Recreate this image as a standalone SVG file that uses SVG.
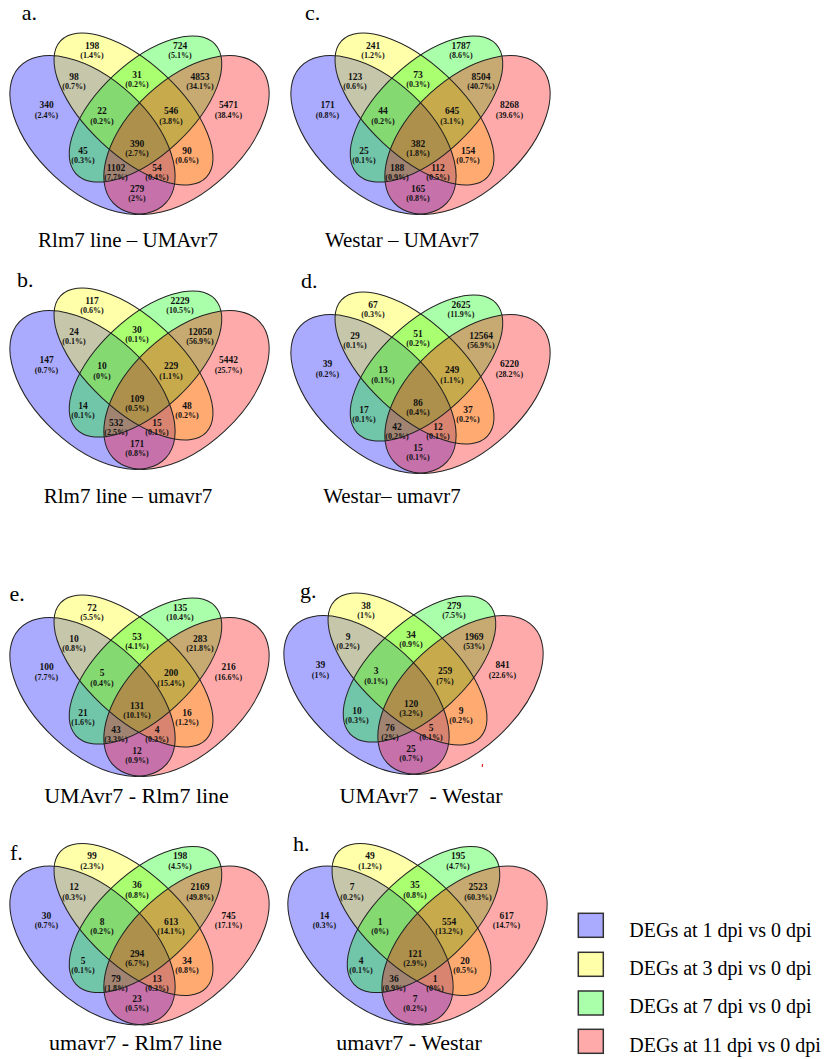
<svg xmlns="http://www.w3.org/2000/svg" width="825" height="1059" viewBox="0 0 825 1059">
<style>
.n{font-family:"Liberation Serif","Times New Roman",serif;font-weight:bold;font-size:9.5px;fill:#111;text-anchor:middle}
.p{font-family:"Liberation Serif","Times New Roman",serif;font-weight:bold;font-size:8px;fill:#111;text-anchor:middle}
.cap{font-family:"Liberation Serif","Times New Roman",serif;font-size:21px;fill:#000;text-anchor:middle}
.cap2{font-family:"Liberation Serif","Times New Roman",serif;font-size:22px;fill:#000;text-anchor:middle}
.tag{font-family:"Liberation Serif","Times New Roman",serif;font-size:22px;fill:#000}
.leg{font-family:"Liberation Serif","Times New Roman",serif;font-size:20px;fill:#000}
.ef{stroke:none;fill-opacity:0.333}
.eo{fill:none;stroke:#222;stroke-width:1}
.box{stroke:#333;stroke-width:1.5}
</style>
<defs>
<g id="venn">
<ellipse class="ef" fill="#0000ff" rx="100" ry="56" transform="translate(92.5 135) rotate(42.8)"/>
<ellipse class="ef" fill="#ffff00" rx="99.8" ry="46.2" transform="translate(133.5 109) rotate(43)"/>
<ellipse class="ef" fill="#00ff00" rx="95" ry="46.2" transform="translate(145.5 109) rotate(-43)"/>
<ellipse class="ef" fill="#ff0000" rx="100" ry="56" transform="translate(186.5 135) rotate(-42.8)"/>
<ellipse class="eo" rx="100" ry="56" transform="translate(92.5 135) rotate(42.8)"/>
<ellipse class="eo" rx="99.8" ry="46.2" transform="translate(133.5 109) rotate(43)"/>
<ellipse class="eo" rx="95" ry="46.2" transform="translate(145.5 109) rotate(-43)"/>
<ellipse class="eo" rx="100" ry="56" transform="translate(186.5 135) rotate(-42.8)"/>
</g>
</defs>

<g id="panel-a">
<use href="#venn"/>
<text class="n" x="92" y="48.8">198</text><text class="p" x="92" y="58.1">(1.4%)</text>
<text class="n" x="180" y="48.8">724</text><text class="p" x="180" y="58.1">(5.1%)</text>
<text class="n" x="46.5" y="108.3">340</text><text class="p" x="46.5" y="117.6">(2.4%)</text>
<text class="n" x="228.5" y="108.3">5471</text><text class="p" x="228.5" y="117.6">(38.4%)</text>
<text class="n" x="74" y="79.8">98</text><text class="p" x="74" y="89.1">(0.7%)</text>
<text class="n" x="137" y="77.8">31</text><text class="p" x="137" y="87.1">(0.2%)</text>
<text class="n" x="200" y="79.8">4853</text><text class="p" x="200" y="89.1">(34.1%)</text>
<text class="n" x="102" y="114.3">22</text><text class="p" x="102" y="123.6">(0.2%)</text>
<text class="n" x="171" y="114.3">546</text><text class="p" x="171" y="123.6">(3.8%)</text>
<text class="n" x="137" y="146.6">390</text><text class="p" x="137" y="155.9">(2.7%)</text>
<text class="n" x="83" y="153.5">45</text><text class="p" x="83" y="162.8">(0.3%)</text>
<text class="n" x="187" y="153.6">90</text><text class="p" x="187" y="162.9">(0.6%)</text>
<text class="n" x="116" y="171.1">1102</text><text class="p" x="116" y="180.4">(7.7%)</text>
<text class="n" x="157" y="171.1">54</text><text class="p" x="157" y="180.4">(0.4%)</text>
<text class="n" x="137" y="191.6">279</text><text class="p" x="137" y="200.9">(2%)</text>
<text class="tag" x="21.7" y="20">a.</text>
<text class="cap" x="128" y="247">Rlm7 line – UMAvr7</text>
</g>

<g id="panel-c">
<g transform="translate(281 0)">
<use href="#venn"/>
<text class="n" x="92" y="48.8">241</text><text class="p" x="92" y="58.1">(1.2%)</text>
<text class="n" x="180" y="48.8">1787</text><text class="p" x="180" y="58.1">(8.6%)</text>
<text class="n" x="46.5" y="108.3">171</text><text class="p" x="46.5" y="117.6">(0.8%)</text>
<text class="n" x="228.5" y="108.3">8268</text><text class="p" x="228.5" y="117.6">(39.6%)</text>
<text class="n" x="74" y="79.8">123</text><text class="p" x="74" y="89.1">(0.6%)</text>
<text class="n" x="137" y="77.8">73</text><text class="p" x="137" y="87.1">(0.3%)</text>
<text class="n" x="200" y="79.8">8504</text><text class="p" x="200" y="89.1">(40.7%)</text>
<text class="n" x="102" y="114.3">44</text><text class="p" x="102" y="123.6">(0.2%)</text>
<text class="n" x="171" y="114.3">645</text><text class="p" x="171" y="123.6">(3.1%)</text>
<text class="n" x="137" y="146.6">382</text><text class="p" x="137" y="155.9">(1.8%)</text>
<text class="n" x="83" y="153.5">25</text><text class="p" x="83" y="162.8">(0.1%)</text>
<text class="n" x="187" y="153.6">154</text><text class="p" x="187" y="162.9">(0.7%)</text>
<text class="n" x="116" y="171.1">188</text><text class="p" x="116" y="180.4">(0.9%)</text>
<text class="n" x="157" y="171.1">112</text><text class="p" x="157" y="180.4">(0.5%)</text>
<text class="n" x="137" y="191.6">165</text><text class="p" x="137" y="200.9">(0.8%)</text>
</g>
<text class="tag" x="305" y="20">c.</text>
<text class="cap" x="402" y="247">Westar – UMAvr7</text>
</g>

<g id="panel-b">
<g transform="translate(0 255)">
<use href="#venn"/>
<text class="n" x="92" y="48.8">117</text><text class="p" x="92" y="58.1">(0.6%)</text>
<text class="n" x="180" y="48.8">2229</text><text class="p" x="180" y="58.1">(10.5%)</text>
<text class="n" x="46.5" y="108.3">147</text><text class="p" x="46.5" y="117.6">(0.7%)</text>
<text class="n" x="228.5" y="108.3">5442</text><text class="p" x="228.5" y="117.6">(25.7%)</text>
<text class="n" x="74" y="79.8">24</text><text class="p" x="74" y="89.1">(0.1%)</text>
<text class="n" x="137" y="77.8">30</text><text class="p" x="137" y="87.1">(0.1%)</text>
<text class="n" x="200" y="79.8">12050</text><text class="p" x="200" y="89.1">(56.9%)</text>
<text class="n" x="102" y="114.3">10</text><text class="p" x="102" y="123.6">(0%)</text>
<text class="n" x="171" y="114.3">229</text><text class="p" x="171" y="123.6">(1.1%)</text>
<text class="n" x="137" y="146.6">109</text><text class="p" x="137" y="155.9">(0.5%)</text>
<text class="n" x="83" y="153.5">14</text><text class="p" x="83" y="162.8">(0.1%)</text>
<text class="n" x="187" y="153.6">48</text><text class="p" x="187" y="162.9">(0.2%)</text>
<text class="n" x="116" y="171.1">532</text><text class="p" x="116" y="180.4">(2.5%)</text>
<text class="n" x="157" y="171.1">15</text><text class="p" x="157" y="180.4">(0.1%)</text>
<text class="n" x="137" y="191.6">171</text><text class="p" x="137" y="200.9">(0.8%)</text>
</g>
<text class="tag" x="17" y="287">b.</text>
<text class="cap" x="128" y="503">Rlm7 line – umavr7</text>
</g>

<g id="panel-d">
<g transform="translate(281 259)">
<use href="#venn"/>
<text class="n" x="92" y="48.8">67</text><text class="p" x="92" y="58.1">(0.3%)</text>
<text class="n" x="180" y="48.8">2625</text><text class="p" x="180" y="58.1">(11.9%)</text>
<text class="n" x="46.5" y="108.3">39</text><text class="p" x="46.5" y="117.6">(0.2%)</text>
<text class="n" x="228.5" y="108.3">6220</text><text class="p" x="228.5" y="117.6">(28.2%)</text>
<text class="n" x="74" y="79.8">29</text><text class="p" x="74" y="89.1">(0.1%)</text>
<text class="n" x="137" y="77.8">51</text><text class="p" x="137" y="87.1">(0.2%)</text>
<text class="n" x="200" y="79.8">12564</text><text class="p" x="200" y="89.1">(56.9%)</text>
<text class="n" x="102" y="114.3">13</text><text class="p" x="102" y="123.6">(0.1%)</text>
<text class="n" x="171" y="114.3">249</text><text class="p" x="171" y="123.6">(1.1%)</text>
<text class="n" x="137" y="146.6">86</text><text class="p" x="137" y="155.9">(0.4%)</text>
<text class="n" x="83" y="153.5">17</text><text class="p" x="83" y="162.8">(0.1%)</text>
<text class="n" x="187" y="153.6">37</text><text class="p" x="187" y="162.9">(0.2%)</text>
<text class="n" x="116" y="171.1">42</text><text class="p" x="116" y="180.4">(0.2%)</text>
<text class="n" x="157" y="171.1">12</text><text class="p" x="157" y="180.4">(0.1%)</text>
<text class="n" x="137" y="191.6">15</text><text class="p" x="137" y="200.9">(0.1%)</text>
</g>
<text class="tag" x="301" y="288">d.</text>
<text class="cap" x="392" y="503">Westar– umavr7</text>
</g>

<g id="panel-e">
<g transform="translate(0 562)">
<use href="#venn"/>
<text class="n" x="92" y="48.8">72</text><text class="p" x="92" y="58.1">(5.5%)</text>
<text class="n" x="180" y="48.8">135</text><text class="p" x="180" y="58.1">(10.4%)</text>
<text class="n" x="46.5" y="108.3">100</text><text class="p" x="46.5" y="117.6">(7.7%)</text>
<text class="n" x="228.5" y="108.3">216</text><text class="p" x="228.5" y="117.6">(16.6%)</text>
<text class="n" x="74" y="79.8">10</text><text class="p" x="74" y="89.1">(0.8%)</text>
<text class="n" x="137" y="77.8">53</text><text class="p" x="137" y="87.1">(4.1%)</text>
<text class="n" x="200" y="79.8">283</text><text class="p" x="200" y="89.1">(21.8%)</text>
<text class="n" x="102" y="114.3">5</text><text class="p" x="102" y="123.6">(0.4%)</text>
<text class="n" x="171" y="114.3">200</text><text class="p" x="171" y="123.6">(15.4%)</text>
<text class="n" x="137" y="146.6">131</text><text class="p" x="137" y="155.9">(10.1%)</text>
<text class="n" x="83" y="153.5">21</text><text class="p" x="83" y="162.8">(1.6%)</text>
<text class="n" x="187" y="153.6">16</text><text class="p" x="187" y="162.9">(1.2%)</text>
<text class="n" x="116" y="171.1">43</text><text class="p" x="116" y="180.4">(3.3%)</text>
<text class="n" x="157" y="171.1">4</text><text class="p" x="157" y="180.4">(0.3%)</text>
<text class="n" x="137" y="191.6">12</text><text class="p" x="137" y="200.9">(0.9%)</text>
</g>
<text class="tag" x="9.5" y="600.5">e.</text>
<text class="cap2" x="136.5" y="803">UMAvr7 - Rlm7 line</text>
</g>

<g id="panel-g">
<g transform="translate(274 560)">
<use href="#venn"/>
<text class="n" x="92" y="48.8">38</text><text class="p" x="92" y="58.1">(1%)</text>
<text class="n" x="180" y="48.8">279</text><text class="p" x="180" y="58.1">(7.5%)</text>
<text class="n" x="46.5" y="108.3">39</text><text class="p" x="46.5" y="117.6">(1%)</text>
<text class="n" x="228.5" y="108.3">841</text><text class="p" x="228.5" y="117.6">(22.6%)</text>
<text class="n" x="74" y="79.8">9</text><text class="p" x="74" y="89.1">(0.2%)</text>
<text class="n" x="137" y="77.8">34</text><text class="p" x="137" y="87.1">(0.9%)</text>
<text class="n" x="200" y="79.8">1969</text><text class="p" x="200" y="89.1">(53%)</text>
<text class="n" x="102" y="114.3">3</text><text class="p" x="102" y="123.6">(0.1%)</text>
<text class="n" x="171" y="114.3">259</text><text class="p" x="171" y="123.6">(7%)</text>
<text class="n" x="137" y="146.6">120</text><text class="p" x="137" y="155.9">(3.2%)</text>
<text class="n" x="83" y="153.5">10</text><text class="p" x="83" y="162.8">(0.3%)</text>
<text class="n" x="187" y="153.6">9</text><text class="p" x="187" y="162.9">(0.2%)</text>
<text class="n" x="116" y="171.1">76</text><text class="p" x="116" y="180.4">(2%)</text>
<text class="n" x="157" y="171.1">5</text><text class="p" x="157" y="180.4">(0.1%)</text>
<text class="n" x="137" y="191.6">25</text><text class="p" x="137" y="200.9">(0.7%)</text>
</g>
<path d="M482.6 764 L482.2 767" stroke="#e02020" stroke-width="1.2" fill="none"/>
<text class="tag" x="300" y="598">g.</text>
<text class="cap2" x="421" y="803" xml:space="preserve">UMAvr7  - Westar</text>
</g>

<g id="panel-f">
<g transform="translate(0 810.5)">
<use href="#venn"/>
<text class="n" x="92" y="48.8">99</text><text class="p" x="92" y="58.1">(2.3%)</text>
<text class="n" x="180" y="48.8">198</text><text class="p" x="180" y="58.1">(4.5%)</text>
<text class="n" x="46.5" y="108.3">30</text><text class="p" x="46.5" y="117.6">(0.7%)</text>
<text class="n" x="228.5" y="108.3">745</text><text class="p" x="228.5" y="117.6">(17.1%)</text>
<text class="n" x="74" y="79.8">12</text><text class="p" x="74" y="89.1">(0.3%)</text>
<text class="n" x="137" y="77.8">36</text><text class="p" x="137" y="87.1">(0.8%)</text>
<text class="n" x="200" y="79.8">2169</text><text class="p" x="200" y="89.1">(49.8%)</text>
<text class="n" x="102" y="114.3">8</text><text class="p" x="102" y="123.6">(0.2%)</text>
<text class="n" x="171" y="114.3">613</text><text class="p" x="171" y="123.6">(14.1%)</text>
<text class="n" x="137" y="146.6">294</text><text class="p" x="137" y="155.9">(6.7%)</text>
<text class="n" x="83" y="153.5">5</text><text class="p" x="83" y="162.8">(0.1%)</text>
<text class="n" x="187" y="153.6">34</text><text class="p" x="187" y="162.9">(0.8%)</text>
<text class="n" x="116" y="171.1">79</text><text class="p" x="116" y="180.4">(1.8%)</text>
<text class="n" x="157" y="171.1">13</text><text class="p" x="157" y="180.4">(0.3%)</text>
<text class="n" x="137" y="191.6">23</text><text class="p" x="137" y="200.9">(0.5%)</text>
</g>
<text class="tag" x="10" y="860">f.</text>
<text class="cap2" x="135.5" y="1050">umavr7 - Rlm7 line</text>
</g>

<g id="panel-h">
<g transform="translate(278 810.5)">
<use href="#venn"/>
<text class="n" x="92" y="48.8">49</text><text class="p" x="92" y="58.1">(1.2%)</text>
<text class="n" x="180" y="48.8">195</text><text class="p" x="180" y="58.1">(4.7%)</text>
<text class="n" x="46.5" y="108.3">14</text><text class="p" x="46.5" y="117.6">(0.3%)</text>
<text class="n" x="228.5" y="108.3">617</text><text class="p" x="228.5" y="117.6">(14.7%)</text>
<text class="n" x="74" y="79.8">7</text><text class="p" x="74" y="89.1">(0.2%)</text>
<text class="n" x="137" y="77.8">35</text><text class="p" x="137" y="87.1">(0.8%)</text>
<text class="n" x="200" y="79.8">2523</text><text class="p" x="200" y="89.1">(60.3%)</text>
<text class="n" x="102" y="114.3">1</text><text class="p" x="102" y="123.6">(0%)</text>
<text class="n" x="171" y="114.3">554</text><text class="p" x="171" y="123.6">(13.2%)</text>
<text class="n" x="137" y="146.6">121</text><text class="p" x="137" y="155.9">(2.9%)</text>
<text class="n" x="83" y="153.5">4</text><text class="p" x="83" y="162.8">(0.1%)</text>
<text class="n" x="187" y="153.6">20</text><text class="p" x="187" y="162.9">(0.5%)</text>
<text class="n" x="116" y="171.1">36</text><text class="p" x="116" y="180.4">(0.9%)</text>
<text class="n" x="157" y="171.1">1</text><text class="p" x="157" y="180.4">(0%)</text>
<text class="n" x="137" y="191.6">7</text><text class="p" x="137" y="200.9">(0.2%)</text>
</g>
<text class="tag" x="293" y="851">h.</text>
<text class="cap2" x="409" y="1050">umavr7 - Westar</text>
</g>

<g id="legend">
<rect class="box" x="578.3" y="913.3" width="25" height="24" fill="#aaaaff"/>
<rect class="box" x="578.3" y="952.3" width="25" height="24" fill="#ffffaa"/>
<rect class="box" x="578.3" y="991" width="25" height="24" fill="#aaffaa"/>
<rect class="box" x="578.3" y="1029.3" width="25" height="24" fill="#ffaaaa"/>
<text class="leg" x="629.3" y="936.7">DEGs at 1 dpi vs 0 dpi</text>
<text class="leg" x="629.3" y="975">DEGs at 3 dpi vs 0 dpi</text>
<text class="leg" x="629.3" y="1013.3">DEGs at 7 dpi vs 0 dpi</text>
<text class="leg" x="629.3" y="1051.7">DEGs at 11 dpi vs 0 dpi</text>
</g>
<g id="connectors"/>
</svg>
